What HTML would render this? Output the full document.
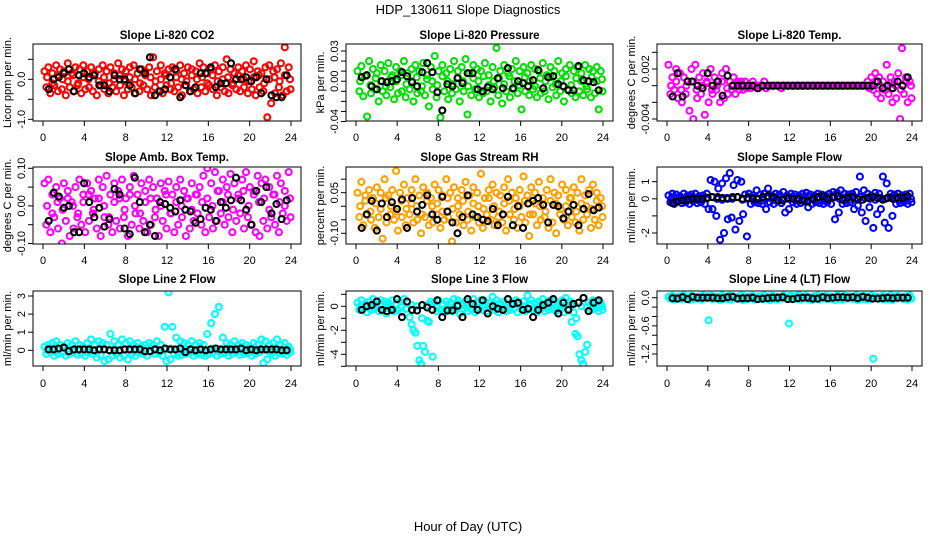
<!DOCTYPE html>
<html><head><meta charset="utf-8"><title>HDP_130611 Slope Diagnostics</title>
<style>
html,body{margin:0;padding:0;background:#fff;}
svg{display:block;font-family:"Liberation Sans",sans-serif;}
</style></head>
<body>
<svg id="chart" width="936" height="540" viewBox="0 0 936 540">
<text x="468" y="14" text-anchor="middle" font-size="13">HDP_130611  Slope Diagnostics</text>
<text x="468" y="531" text-anchor="middle" font-size="13">Hour of Day (UTC)</text>
</svg>
<script>
// ---------- DATA ----------
const xTicks = [0,4,8,12,16,20,24];
// colored series: upper band, lower band (64 pts each, 0.375 h grid), middle (48 pts, 0.5 h grid); black reference (48 pts)
const co2Hi=[0.2,0.3,0.15,0.35,0.25,0.2,0.4,0.15,0.3,0.25,0.35,0.2,0.3,0.15,0.25,0.35,0.2,0.3,0.15,0.4,0.25,0.2,0.3,0.35,0.15,0.25,0.2,0.3,0.55,0.2,0.35,0.15,0.25,0.3,0.2,0.35,0.15,0.3,0.25,0.2,0.4,0.3,0.15,0.25,0.35,0.2,0.3,0.5,0.25,0.15,0.3,0.2,0.35,0.25,0.45,0.2,0.15,0.3,0.35,0.2,0.25,0.4,0.8,0.3];
const co2Lo=[-0.2,-0.35,-0.15,-0.3,-0.25,-0.4,-0.2,-0.3,-0.15,-0.35,-0.25,-0.2,-0.3,-0.4,-0.15,-0.25,-0.35,-0.2,-0.3,-0.15,-0.4,-0.25,-0.2,-0.35,-0.3,-0.15,-0.25,-0.4,-0.2,-0.3,-0.35,-0.15,-0.25,-0.3,-0.2,-0.4,-0.15,-0.3,-0.25,-0.35,-0.2,-0.3,-0.15,-0.25,-0.4,-0.2,-0.3,-0.35,-0.15,-0.25,-0.3,-0.2,-0.35,-0.25,-0.4,-0.2,-0.3,-0.95,-0.6,-0.35,-0.2,-0.4,-0.3,-0.25];
const co2Mid=[0.05,-0.1,0.1,0,-0.05,0.1,-0.1,0.05,0,0.1,-0.05,0.05,-0.1,0,0.1,-0.05,0.05,0,-0.1,0.1,0.05,-0.05,0,0.1,-0.1,0.05,0,-0.05,0.1,0,0.05,-0.1,0.1,-0.05,0,0.05,-0.1,0.1,0,-0.05,0.05,0.1,-0.1,0,0.05,-0.05,0.1,0];
const co2Ref=[-0.25,0,0.05,0.15,0.25,-0.3,0.1,0.15,0.05,0.1,-0.15,-0.15,-0.3,0.1,0,0,-0.15,-0.35,0.25,0.15,0.55,-0.4,-0.3,-0.25,0.05,0.25,-0.45,-0.15,-0.3,-0.2,0.15,0.15,0.3,-0.2,-0.1,-0.1,0.4,0,0,0.05,-0.05,0.05,-0.35,0,-0.4,-0.45,-0.45,0.1];

const presHi=[0.01,0.015,0.005,0.02,0.012,0.008,0.016,0.01,0.018,0.006,0.014,0.01,0.02,0.008,0.012,0.016,0.01,0.018,0.006,0.014,0.025,0.01,0.016,0.008,0.012,0.02,0.01,0.014,0.022,0.008,0.016,0.012,0.01,0.018,0.006,0.014,0.033,0.01,0.016,0.008,0.012,0.02,0.01,0.014,0.008,0.016,0.012,0.01,0.018,0.006,0.014,0.01,0.02,0.008,0.012,0.016,0.01,0.014,0.008,0.016,0.012,0.01,0.014,0.01];
const presLo=[-0.01,-0.015,-0.035,-0.012,-0.008,-0.02,-0.01,-0.014,-0.006,-0.018,-0.012,-0.01,-0.016,-0.008,-0.02,-0.012,-0.01,-0.014,-0.025,-0.008,-0.016,-0.036,-0.01,-0.018,-0.012,-0.008,-0.02,-0.01,-0.033,-0.014,-0.008,-0.016,-0.012,-0.01,-0.02,-0.006,-0.014,-0.022,-0.01,-0.016,-0.008,-0.012,-0.028,-0.01,-0.014,-0.008,-0.016,-0.012,-0.01,-0.018,-0.006,-0.014,-0.01,-0.02,-0.008,-0.012,-0.016,-0.01,-0.014,-0.008,-0.016,-0.012,-0.028,-0.01];
const presMid=[0,0.005,-0.004,0.003,0,-0.005,0.004,0,0.006,-0.003,0,0.004,-0.005,0.002,0,-0.004,0.005,0,-0.003,0.004,0,-0.005,0.003,0,0.005,-0.004,0,0.003,-0.003,0.005,0,-0.004,0.004,0,-0.005,0.003,0,0.004,-0.003,0,0.005,-0.004,0.003,0,-0.005,0.004,0,0.002];
const presRef=[0.004,0.006,-0.005,-0.008,0,-0.001,0,0.002,0.009,0.005,-0.001,-0.005,0.009,0.018,0.009,-0.011,-0.029,-0.003,-0.005,0.003,-0.002,0.008,0.008,-0.008,-0.01,-0.006,-0.008,0.003,-0.007,0.013,-0.007,0,-0.002,-0.005,0.001,0.011,-0.007,0.004,0.005,-0.003,-0.005,-0.009,-0.009,0.015,0.001,0,-0.001,-0.009];

const tempHi=[0.0025,0.001,0.002,0.0015,0.001,0.0005,0.002,0.0025,0.001,0.0015,0.0005,0.002,0.001,0.0005,0.0015,0.002,0.0005,0.001,0.0005,0.0005,0.0005,0,0.0005,0,0,0.0005,0,0,0,0,0,0,0,0,0,0,0,0,0,0,0,0,0,0,0,0,0,0,0,0,0,0,0.0005,0.001,0.0015,0.001,0.0005,0.0025,0.001,0.0005,0.0015,0.0045,0.001,0.0005];
const tempLo=[-0.001,-0.0005,-0.0015,-0.002,-0.001,-0.003,-0.004,-0.0015,-0.001,-0.0035,-0.002,-0.001,-0.0005,-0.002,-0.0015,-0.001,-0.0005,-0.001,-0.0005,-0.0005,-0.0003,-0.0003,0,-0.0003,0,-0.0003,0,0,0,-0.0003,0,0,0,0,0,0,0,0,0,0,0,0,0,0,0,0,0,0,0,0,0,0,-0.0003,-0.0005,-0.001,-0.0015,-0.0005,-0.001,-0.002,-0.0015,-0.004,-0.001,-0.002,-0.0015];
const tempMid=[0,0.0005,-0.0005,0,0.0005,-0.0005,0,0.0003,-0.0005,0,0.0005,-0.0003,0,0.0003,0,0,0,0,0,0,0,0,0,0,0,0,0,0,0,0,0,0,0,0,0,0,0,0,0,0,0.0005,0,-0.0005,0.0003,0,-0.0005,0.0005,0];
const tempRef=[-0.0013,0.0015,-0.0013,0.0005,0.0005,0,-0.0003,0.0015,0,0.0005,-0.0012,0.0012,0,0,0,0,0,-0.0003,0,0,0,0,0,0,0,0,0,0,0,0,0,0,0,0,0,0,0,0,0,0,0,0.0005,-0.0003,0,-0.0003,0.0005,0,0.001];

const ambHi=[0.06,0.07,0.03,0.05,0.02,0.06,0.04,0.01,0.05,0.07,0.03,0.06,0.04,0.02,0.07,0.05,0.08,0.03,0.06,0.04,0.07,0.02,0.05,0.08,0.03,0.06,0.04,0.07,0.05,0.02,0.06,0.04,0.065,0.03,0.05,0.07,0.04,0.02,0.06,0.03,0.05,0.08,0.1,0.06,0.09,0.04,0.07,0.05,0.085,0.06,0.03,0.07,0.09,0.05,0.04,0.08,0.06,0.07,0.05,0.03,0.08,0.06,0.04,0.09];
const ambLo=[-0.05,-0.07,-0.03,-0.06,-0.1,-0.04,-0.08,-0.06,-0.03,-0.05,-0.07,-0.04,-0.02,-0.06,-0.08,-0.03,-0.05,-0.07,-0.04,-0.06,-0.03,-0.08,-0.05,-0.02,-0.06,-0.04,-0.07,-0.05,-0.03,-0.08,-0.04,-0.06,-0.02,-0.07,-0.05,-0.03,-0.08,-0.06,-0.04,-0.02,-0.05,-0.07,-0.03,-0.06,-0.04,-0.02,-0.05,-0.03,-0.07,-0.04,-0.02,-0.06,-0.03,-0.05,-0.07,-0.08,-0.04,-0.06,-0.03,-0.05,-0.07,-0.02,-0.04,-0.03];
const ambMid=[0,-0.02,0.01,-0.01,0.02,0,-0.02,0.01,0.03,-0.01,0.02,0,-0.03,0.01,0.02,-0.01,0.03,0,-0.02,0.01,0.02,-0.01,0,0.03,-0.02,0.01,0,0.02,-0.01,0.03,0.01,0.02,0,0.04,0.01,0.03,-0.01,0.02,0.04,0,0.03,0.01,0.02,-0.01,0.03,0.01,0,0.02];
const ambRef=[-0.04,0.035,0.025,-0.005,0,-0.07,-0.07,0.06,0.01,-0.03,-0.005,-0.055,-0.035,0.045,0.03,-0.06,-0.075,0.075,0.01,-0.07,-0.05,-0.08,0.01,0.005,-0.005,-0.015,0.015,-0.01,-0.015,-0.045,-0.035,-0.005,-0.01,-0.04,0.01,-0.005,0.015,0.075,0.015,-0.01,-0.05,0.04,0.01,0.05,-0.02,0.005,-0.035,0.015];

const rhHi=[0.05,0.09,0.04,0.06,0.03,0.07,0.05,0.1,0.04,0.06,0.13,0.05,0.08,0.03,0.06,0.1,0.04,0.07,0.05,0.03,0.08,0.06,0.04,0.1,0.05,0.07,0.03,0.06,0.09,0.04,0.07,0.05,0.12,0.03,0.06,0.08,0.05,0.04,0.07,0.1,0.05,0.03,0.06,0.11,0.04,0.07,0.05,0.09,0.03,0.06,0.1,0.05,0.04,0.08,0.06,0.03,0.07,0.05,0.1,0.04,0.06,0.08,0.05,0.03];
const rhLo=[-0.04,-0.07,-0.03,-0.05,-0.08,-0.04,-0.12,-0.06,-0.03,-0.05,-0.09,-0.04,-0.07,-0.03,-0.06,-0.05,-0.1,-0.04,-0.07,-0.06,-0.03,-0.08,-0.05,-0.04,-0.13,-0.06,-0.03,-0.07,-0.05,-0.09,-0.04,-0.06,-0.08,-0.03,-0.05,-0.07,-0.04,-0.06,-0.09,-0.03,-0.05,-0.08,-0.04,-0.06,-0.11,-0.03,-0.07,-0.05,-0.04,-0.08,-0.06,-0.1,-0.03,-0.05,-0.07,-0.04,-0.06,-0.09,-0.05,-0.03,-0.08,-0.05,-0.07,-0.04];
const rhMid=[0,0.02,-0.02,0.01,-0.01,0.03,0,-0.02,0.02,-0.01,0.01,0,-0.03,0.02,0,0.01,-0.02,0.03,-0.01,0,0.02,-0.02,0.01,0,-0.01,0.03,0,-0.02,0.01,0.02,-0.01,0,0.02,-0.03,0.01,0,-0.02,0.02,0.01,-0.01,0,0.03,-0.02,0.01,0,-0.01,0.02,0];
const rhRef=[-0.08,-0.03,0.02,-0.09,0.01,-0.04,0.015,-0.01,0.025,-0.08,0.03,-0.02,0.005,0.04,-0.03,-0.05,0.035,-0.02,-0.06,-0.1,-0.04,0.04,-0.03,-0.04,-0.05,-0.055,-0.01,-0.07,-0.03,0.035,-0.07,0,-0.08,0.01,0.02,0.03,0.005,-0.06,0.005,0,-0.045,-0.02,0.005,-0.07,-0.01,0.045,-0.015,-0.005];

const sfHi=[0.2,0.3,0.25,0.15,0.3,0.2,0.25,0.3,0.15,0.2,0.3,1.1,1.0,0.6,0.9,1.2,1.5,0.8,1.1,1.0,0.25,0.3,0.2,0.5,0.25,0.3,0.6,0.2,0.3,0.25,0.4,0.2,0.3,0.25,0.2,0.3,0.35,0.25,0.2,0.3,0.25,0.2,0.3,0.4,0.35,0.5,0.3,0.25,0.3,0.4,1.3,0.5,0.3,0.2,0.35,0.3,1.3,0.9,0.3,0.25,0.3,0.2,0.25,0.3];
const sfLo=[-0.2,-0.3,-0.15,-0.25,-0.2,-0.3,-0.15,-0.25,-0.2,-0.3,-0.6,-0.6,-1.0,-2.4,-2.0,-1.2,-1.1,-1.8,-1.3,-0.9,-2.2,-0.3,-0.2,-0.25,-0.3,-0.6,-0.2,-0.3,-0.15,-0.25,-0.8,-0.6,-0.2,-0.3,-0.25,-0.15,-0.5,-0.3,-0.2,-0.25,-0.3,-0.2,-0.3,-1.2,-0.8,-0.3,-0.25,-0.2,-0.6,-0.4,-0.8,-1.3,-0.5,-1.7,-0.9,-0.6,-1.4,-1.7,-1.0,-0.3,-0.25,-0.2,-0.3,-0.2];
const sfMid=[0,0.05,-0.05,0,0.1,-0.05,0,0.05,0.1,0,-0.05,0.05,0,0.1,-0.05,0,0.05,0,-0.1,0.05,0,0.1,-0.05,0,0.05,0,-0.05,0.1,0,0.05,-0.05,0,0.1,0,0.05,-0.05,0,0.1,0.05,0,-0.05,0.05,0,0.1,0,-0.05,0.05,0];
const sfRef=[-0.25,-0.15,-0.1,-0.05,0,0,0,0.05,0.1,0.1,0.05,0,0.1,0.1,0,0.05,0,0,0.1,0.15,0.1,-0.05,-0.1,0.05,0,0,-0.1,-0.15,0,0.1,0.15,0,0.1,0.15,-0.05,0.05,0.1,0,-0.05,0.05,0.1,0.05,-0.05,0.05,0,0.05,0.05,0.15];

const l2Hi=[0.2,0.3,0.4,0.5,0.3,0.2,0.4,0.3,0.5,0.3,0.2,0.4,0.6,0.3,0.5,0.4,0.3,0.9,0.5,0.3,0.6,0.4,0.5,0.3,0.4,0.2,0.3,0.4,0.3,0.5,0.3,1.3,3.2,1.3,0.7,0.5,0.4,0.3,0.5,0.3,0.4,0.3,0.9,1.5,2.0,2.4,0.7,0.4,0.3,0.5,0.3,0.4,0.3,0.2,0.4,0.3,0.6,0.5,0.3,0.4,0.6,0.3,0.4,0.2];
const l2Lo=[-0.2,-0.1,-0.3,-0.2,-0.15,-0.3,-0.2,-0.1,-0.25,-0.2,-0.3,-0.15,-0.2,-0.4,-0.3,-0.6,-0.5,-0.3,-0.2,-0.4,-0.3,-0.5,-0.2,-0.3,-0.15,-0.2,-0.3,-0.1,-0.2,-0.15,-0.3,-0.6,-0.5,-0.2,-0.3,-0.25,-0.2,-0.15,-0.3,-0.2,-0.25,-0.3,-0.2,-0.1,-0.3,-0.2,-0.15,-0.3,-0.2,-0.1,-0.25,-0.2,-0.15,-0.3,-0.2,-0.1,-0.7,-0.5,-0.2,-0.3,-0.15,-0.2,-0.25,-0.1];
const l2Mid=[0,0.1,0.05,-0.05,0.1,0,0.05,0.1,-0.05,0,0.1,0.05,0,0.1,-0.05,0.05,0,0.1,0.05,0,-0.05,0.1,0,0.05,0.1,0,-0.05,0.05,0.1,0,0.05,-0.05,0.1,0,0.05,0.1,0,-0.05,0.05,0,0.1,0.05,0,-0.05,0.1,0.05,0,0.05];
const l2Ref=[0.05,0.05,0.1,0.15,-0.05,0.05,0.05,0.05,0.05,0,0.05,0.05,0,0,0,0.05,0.05,0.05,0.05,-0.05,-0.05,0.05,0,0.1,0.05,0.05,0.1,-0.1,0.05,0,0.05,0,0.05,0.1,0.05,0.05,0.05,0.05,0.1,0,0.05,0,0.05,0.05,0.05,0.05,0,0];

const l3Hi=[0.3,0.5,0.2,0.4,0.6,0.3,0.5,0.4,0.3,0.5,0.2,0.4,0.6,0.3,-1.5,-2.2,-4.5,-3.3,-1.2,0.4,0.3,0.5,0.2,0.4,0.3,0.6,0.5,0.3,0.4,0.2,0.6,0.3,0.5,0.4,0.3,0.8,0.5,0.3,0.4,0.6,0.3,0.5,0.2,0.4,0.9,0.5,0.3,0.4,0.6,0.3,0.5,0.4,0.3,0.5,0.7,0.4,-0.5,-2.5,-4.5,-3.8,0.3,0.5,0.4,0.3];
const l3Lo=[-0.3,-0.2,-0.5,-0.3,-0.2,-0.4,-0.3,-0.6,-0.2,-0.4,-0.3,-0.5,-0.2,-0.9,-2.0,-3.3,-4.8,-3.8,-1.3,-4.2,-0.4,-0.3,-0.5,-0.2,-0.4,-0.3,-0.6,-0.2,-0.4,-0.3,-0.5,-0.2,-0.3,-0.4,-0.2,-0.3,-0.5,-0.2,-0.4,-0.3,-0.2,-0.5,-0.3,-0.4,-0.2,-0.3,-0.5,-0.2,-0.4,-0.3,-0.2,-0.4,-0.3,-0.5,-0.2,-1.3,-2.3,-4.0,-4.8,-3.2,-0.3,-0.2,-0.4,-0.3];
const l3Mid=[0,0.2,-0.1,0.1,0,0.2,-0.1,0.1,0,-0.2,0.1,0,-1.0,0.1,0.2,0,0.1,-0.1,0.2,0,0.1,0,0.2,-0.1,0.1,0,0.2,0.1,0,-0.1,0.2,0.1,0,0.2,-0.1,0.1,0,0.2,0.1,0,0.1,0.2,-1.0,0,-0.1,0.2,0.1,0];
const l3Ref=[-0.3,0,0.1,0.4,-0.3,-0.4,-0.3,0.6,-0.9,0.4,-0.3,-0.35,0.1,-0.1,-0.3,0.5,-0.9,-0.35,-0.35,0.05,-0.9,0.6,0.2,-0.3,0.5,-0.6,0,-0.2,-0.3,0.6,0.2,0.3,-0.3,-0.2,-0.9,-0.3,0.1,0.3,0.6,-0.6,0.3,-0.3,0.2,0.3,0.7,-0.4,0.3,0.5];

const l4Hi=[0.02,0.04,0.01,0.03,0.05,0.02,0.04,0.01,0.03,0.05,0.02,0.04,0.03,0.01,0.05,0.02,0.04,0.03,0.01,0.05,0.03,0.02,0.04,0.01,0.03,0.05,0.02,0.04,0.03,0.01,0.05,0.02,0.04,0.03,0.06,0.02,0.04,0.01,0.03,0.05,0.02,0.04,0.03,0.01,0.05,0.08,0.04,0.03,0.02,0.05,0.03,0.04,0.02,0.05,0.03,0.01,0.04,0.02,0.05,0.03,0.04,0.02,0.03,0.05];
const l4Lo=[-0.02,-0.04,-0.01,-0.03,-0.02,-0.05,-0.03,-0.01,-0.04,-0.02,-0.48,-0.03,-0.01,-0.05,-0.02,-0.03,-0.04,-0.01,-0.02,-0.05,-0.03,-0.02,-0.04,-0.01,-0.03,-0.02,-0.05,-0.03,-0.04,-0.02,-0.01,-0.55,-0.03,-0.02,-0.04,-0.01,-0.03,-0.05,-0.02,-0.04,-0.01,-0.03,-0.02,-0.05,-0.03,-0.04,-0.02,-0.01,-0.03,-0.05,-0.02,-0.04,-0.03,-1.3,-0.01,-0.02,-0.04,-0.03,-0.05,-0.02,-0.01,-0.03,-0.04,-0.02];
const l4Mid=[0,0.01,-0.01,0,0.02,0,-0.01,0.01,0,0.02,-0.01,0,0.01,0,-0.02,0.01,0,0.02,-0.01,0,0.01,0,-0.01,0.02,0,0.01,-0.01,0,0.02,0,0.01,-0.01,0,0.02,0,-0.01,0.01,0,0.02,-0.01,0,0.01,0,-0.01,0.02,0,0.01,0];
const l4Ref=[-0.01,-0.02,0.01,-0.03,0.02,0,0,0,0,-0.01,-0.01,0.01,0.02,-0.02,-0.01,-0.01,0,-0.03,-0.02,-0.01,0,0,0.01,-0.03,-0.03,-0.01,0,0,-0.02,-0.02,0.01,-0.01,0,0.01,0.01,0,0.01,-0.01,0.02,0,-0.02,-0.02,-0.01,0,-0.01,0,0,0];

// tick values / labels per panel
const co2Ticks=[-1,-0.5,0,0.5];           const co2Labels=["-1.0","","0.0",""];
const presTicks=[0.03,0.02,0.01,0,-0.01,-0.02,-0.03,-0.04]; const presLabels=["0.03","","","0.00","","","","-0.04"];
const tempTicks=[0.004,0.002,0,-0.002,-0.004]; const tempLabels=["","0.002","","","-0.004"];
const ambTicks=[0.1,0.05,0,-0.05,-0.1];   const ambLabels=["0.10","","0.00","","-0.10"];
const rhTicks=[0.1,0.05,0,-0.05,-0.1];    const rhLabels=["","0.05","","","-0.10"];
const sfTicks=[1,0,-1,-2];                const sfLabels=["1","0","","-2"];
const l2Ticks=[0,1,2,3];                  const l2Labels=["0","1","2","3"];
const l3Ticks=[1,0,-1,-2,-3,-4,-5];       const l3Labels=["","0","","-2","","-4",""];
const l4Ticks=[0,-0.2,-0.4,-0.6,-0.8,-1.0,-1.2]; const l4Labels=["0.0","","","-0.6","","","-1.2"];

// ---------- LAYOUT ----------
const NS="http://www.w3.org/2000/svg";
const svg=document.getElementById('chart');
const colBox=[[33,301,43,291],[346,613,356,603],[657,922,667,912]];
const rowBox=[[44,121,39,141],[167,244,161,264],[291,366,283,387]];
const panels=[
 {key:'co2',title:'Slope Li-820 CO2',ylab:'Licor ppm per min.',col:0,row:0,color:'#ff0000',ya:[0,79.3],yb:[-1,119.3],hi:co2Hi,lo:co2Lo,mid:co2Mid,ref:co2Ref,ticks:co2Ticks,labels:co2Labels},
 {key:'pressure',title:'Slope Li-820 Pressure',ylab:'kPa per min.',col:1,row:0,color:'#00e000',ya:[0.03,51],yb:[-0.04,121.5],hi:presHi,lo:presLo,mid:presMid,ref:presRef,ticks:presTicks,labels:presLabels},
 {key:'temp',title:'Slope Li-820 Temp.',ylab:'degrees C per min.',col:2,row:0,color:'#ff00ff',ya:[0.002,69],yb:[-0.004,119],hi:tempHi,lo:tempLo,mid:tempMid,ref:tempRef,ticks:tempTicks,labels:tempLabels},
 {key:'amb-box-temp',title:'Slope Amb. Box Temp.',ylab:'degrees C per min.',col:0,row:1,color:'#ff00ff',ya:[0.1,168.3],yb:[-0.1,243.5],hi:ambHi,lo:ambLo,mid:ambMid,ref:ambRef,ticks:ambTicks,labels:ambLabels},
 {key:'gas-rh',title:'Slope Gas Stream RH',ylab:'percent per min.',col:1,row:1,color:'#ff9f00',ya:[0.05,192.7],yb:[-0.1,233.3],hi:rhHi,lo:rhLo,mid:rhMid,ref:rhRef,ticks:rhTicks,labels:rhLabels},
 {key:'sample-flow',title:'Slope Sample Flow',ylab:'ml/min per min.',col:2,row:1,color:'#0000ff',ya:[1,181.7],yb:[-2,233],hi:sfHi,lo:sfLo,mid:sfMid,ref:sfRef,ticks:sfTicks,labels:sfLabels},
 {key:'line2-flow',title:'Slope Line 2 Flow',ylab:'ml/min per min.',col:0,row:2,color:'#00ffff',ya:[3,296],yb:[0,350.3],hi:l2Hi,lo:l2Lo,mid:l2Mid,ref:l2Ref,ticks:l2Ticks,labels:l2Labels},
 {key:'line3-flow',title:'Slope Line 3 Flow',ylab:'ml/min per min.',col:1,row:2,color:'#00ffff',ya:[0,306.3],yb:[-4,354.3],hi:l3Hi,lo:l3Lo,mid:l3Mid,ref:l3Ref,ticks:l3Ticks,labels:l3Labels},
 {key:'line4-flow',title:'Slope Line 4 (LT) Flow',ylab:'ml/min per min.',col:2,row:2,color:'#00ffff',ya:[0,297.7],yb:[-1.2,354],hi:l4Hi,lo:l4Lo,mid:l4Mid,ref:l4Ref,ticks:l4Ticks,labels:l4Labels}
];

function el(tag,attrs,parent){const e=document.createElementNS(NS,tag);for(const k in attrs)e.setAttribute(k,attrs[k]);parent.appendChild(e);return e;}

panels.forEach(p=>{
  const [bx0,bx1,x0,x24]=colBox[p.col];
  const [by0,by1,titleY,labY]=rowBox[p.row];
  const xs=h=>x0+(x24-x0)*h/24;
  const ys=v=>p.ya[1]+(v-p.ya[0])*(p.yb[1]-p.ya[1])/(p.yb[0]-p.ya[0]);
  const g=el('g',{},svg);
  
  

  const t=el('text',{x:(bx0+bx1)/2,y:titleY,'text-anchor':'middle','font-size':'11.5','font-weight':'bold'},g);
  t.textContent=p.title;
  
  

  const yl=el('text',{x:0,y:0,'text-anchor':'middle','font-size':'11',transform:`translate(${bx0-22},${(by0+by1)/2}) rotate(-90)`},g);
  yl.textContent=p.ylab;
  
  

  const cid='clip-'+p.key;
  const cp=el('clipPath',{id:cid},g);
  el('rect',{x:bx0,y:by0,width:bx1-bx0,height:by1-by0},cp);
  const marks=el('g',{'clip-path':`url(#${cid})`,fill:'none','stroke-width':'2.1'},g);
  
  

  const drawSeries=(arr,t0,dt,color,name)=>{
    arr.forEach((v,i)=>{
      const c=el('circle',{cx:xs(t0+i*dt).toFixed(1),cy:ys(v).toFixed(1),r:3,stroke:color},marks);
      
      
    });
  };
  drawSeries(p.hi,0.15,0.375,p.color,'point-'+p.key);
  drawSeries(p.lo,0.33,0.375,p.color,'point-'+p.key);
  drawSeries(p.mid,0.4,0.5,p.color,'point-'+p.key);
  drawSeries(p.ref,0.55,0.49,'#000000','reference-point-'+p.key);

  const box=el('rect',{x:bx0,y:by0,width:bx1-bx0,height:by1-by0,fill:'none',stroke:'#000','stroke-width':'1'},g);
  
  

  const ax=el('g',{stroke:'#000','stroke-width':'1'},g);
  
  
  xTicks.forEach(h=>{
    el('line',{x1:xs(h),x2:xs(h),y1:by1,y2:by1+5},ax);
    const tl=el('text',{x:xs(h),y:labY,'text-anchor':'middle','font-size':'11',stroke:'none',fill:'#000'},ax);
    tl.textContent=String(h);
    
    
  });
  const ay=el('g',{stroke:'#000','stroke-width':'1'},g);
  
  
  p.ticks.forEach((v,i)=>{
    const y=ys(v);
    el('line',{x1:bx0-5,x2:bx0,y1:y,y2:y},ay);
    if(p.labels[i]){
      const tl=el('text',{x:0,y:0,'text-anchor':'middle','font-size':'11',stroke:'none',fill:'#000',transform:`translate(${bx0-8},${y}) rotate(-90)`},ay);
      tl.textContent=p.labels[i];
      
      
    }
  });
});
</script>
</body></html>
